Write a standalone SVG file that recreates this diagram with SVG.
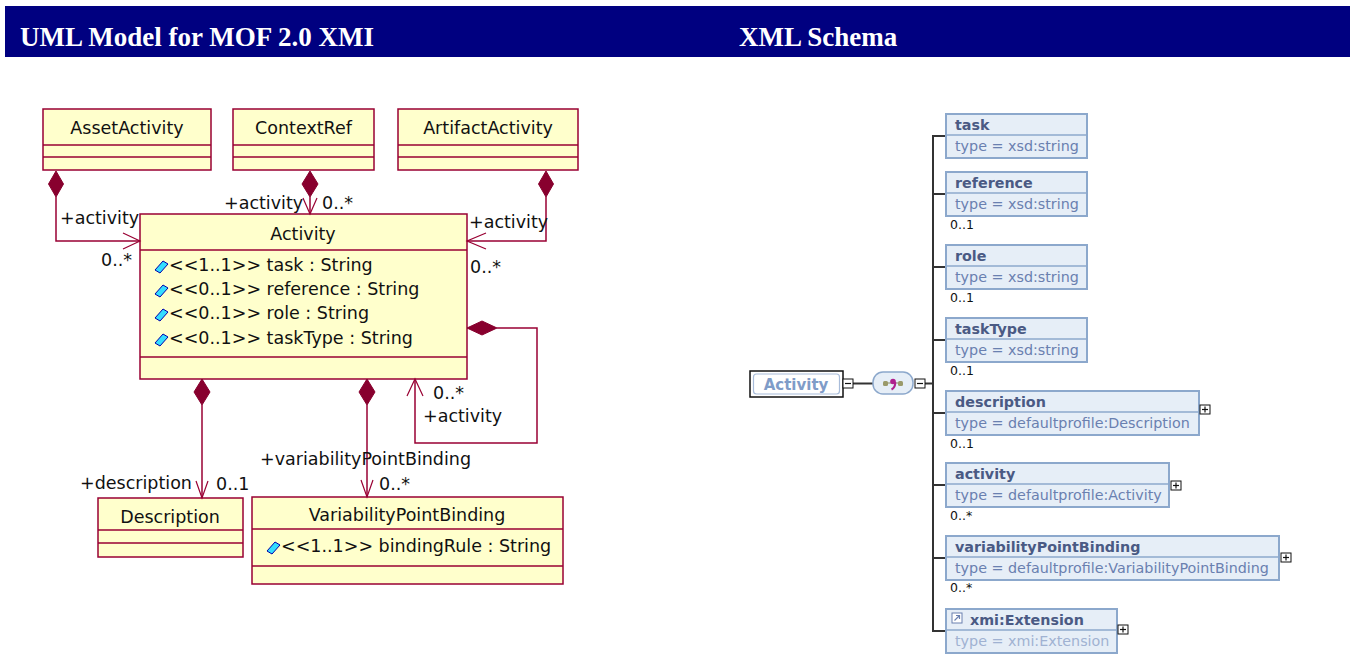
<svg xmlns="http://www.w3.org/2000/svg" width="1354" height="654" viewBox="0 0 1354 654">
<style>
.hdr{font-family:"Liberation Serif","Times New Roman",serif;font-weight:bold;font-size:27px;fill:#fff}
.cls{fill:#FFFFCC;stroke:#990033;stroke-width:1.5}
.sep{stroke:#990033;stroke-width:1.5}
.ut{font-family:"DejaVu Sans",Verdana,sans-serif;font-size:17.5px;fill:#111}
.mid{text-anchor:middle}
.ln{fill:none;stroke:#990033;stroke-width:1.5}
.arr{fill:none;stroke:#990033;stroke-width:1.2}
.dia{fill:#88002E;stroke:#88002E;stroke-width:1}
.ico{fill:#33DDFF;stroke:#0000AA;stroke-width:1}
.el{fill:#E6EEF7;stroke:#8CA8CC;stroke-width:2}
.esep{stroke:#8CA8CC;stroke-width:1.5}
.en{font-family:"DejaVu Sans",Verdana,sans-serif;font-weight:bold;font-size:14.3px;fill:#4A5A84}
.et{font-family:"DejaVu Sans",Verdana,sans-serif;font-size:14.3px;fill:#6A80B0}
.etl{font-family:"DejaVu Sans",Verdana,sans-serif;font-size:14.3px;fill:#A0B2D2}
.card{font-family:"DejaVu Sans",Verdana,sans-serif;font-size:12.5px;fill:#111}
.tr{fill:none;stroke:#333;stroke-width:2}
.pm{fill:#fff;stroke:#111;stroke-width:1}
.pmg{stroke:#111;stroke-width:1.2}
</style>
<defs>
<polygon id="attrIcon" class="ico" points="0,5 8,-4 13,-1 5,8"/>
<g id="plus"><rect class="pm" x="0" y="0" width="10" height="9"/><line class="pmg" x1="2" y1="4.5" x2="8" y2="4.5"/><line class="pmg" x1="5" y1="1.5" x2="5" y2="7.5"/></g>
<g id="minus"><rect class="pm" x="0" y="0" width="10" height="9"/><line class="pmg" x1="2" y1="4.5" x2="8" y2="4.5"/></g>
</defs>

<g id="header">
<rect x="5" y="6" width="1345" height="51" fill="#000080"/>
<text class="hdr" x="20" y="46">UML Model for MOF 2.0 XMI</text>
<text class="hdr" x="739" y="46">XML Schema</text>
</g>

<g id="AssetActivity">
<rect class="cls" x="43" y="109" width="168" height="61"/>
<line class="sep" x1="43" y1="145" x2="211" y2="145"/>
<line class="sep" x1="43" y1="157" x2="211" y2="157"/>
<text class="ut mid" x="127" y="134">AssetActivity</text>
</g>
<g id="ContextRef">
<rect class="cls" x="233" y="109" width="141" height="61"/>
<line class="sep" x1="233" y1="145" x2="374" y2="145"/>
<line class="sep" x1="233" y1="157" x2="374" y2="157"/>
<text class="ut mid" x="303.5" y="134">ContextRef</text>
</g>
<g id="ArtifactActivity">
<rect class="cls" x="398" y="109" width="180" height="61"/>
<line class="sep" x1="398" y1="145" x2="578" y2="145"/>
<line class="sep" x1="398" y1="157" x2="578" y2="157"/>
<text class="ut mid" x="488" y="134">ArtifactActivity</text>
</g>
<g id="Activity">
<rect class="cls" x="140" y="214" width="327" height="165"/>
<line class="sep" x1="140" y1="250" x2="467" y2="250"/>
<line class="sep" x1="140" y1="357" x2="467" y2="357"/>
<text class="ut mid" x="303" y="240">Activity</text>
<use href="#attrIcon" x="155" y="265"/>
<text class="ut" x="169" y="271">&lt;&lt;1..1&gt;&gt; task : String</text>
<use href="#attrIcon" x="155" y="289"/>
<text class="ut" x="169" y="295">&lt;&lt;0..1&gt;&gt; reference : String</text>
<use href="#attrIcon" x="155" y="313"/>
<text class="ut" x="169" y="319">&lt;&lt;0..1&gt;&gt; role : String</text>
<use href="#attrIcon" x="155" y="338"/>
<text class="ut" x="169" y="344">&lt;&lt;0..1&gt;&gt; taskType : String</text>
</g>
<g id="Description">
<rect class="cls" x="98" y="498" width="145" height="59"/>
<line class="sep" x1="98" y1="530" x2="243" y2="530"/>
<line class="sep" x1="98" y1="543" x2="243" y2="543"/>
<text class="ut mid" x="170" y="523">Description</text>
</g>
<g id="VariabilityPointBinding">
<rect class="cls" x="252" y="497" width="311" height="87"/>
<line class="sep" x1="252" y1="529" x2="563" y2="529"/>
<line class="sep" x1="252" y1="566" x2="563" y2="566"/>
<text class="ut mid" x="407" y="521">VariabilityPointBinding</text>
<use href="#attrIcon" x="267" y="546"/>
<text class="ut" x="281" y="552">&lt;&lt;1..1&gt;&gt; bindingRule : String</text>
</g>

<g id="connectors">
<polygon class="dia" points="56,171 63.5,184 56,197 48.5,184"/>
<polyline class="ln" points="56,197 56,241 140,241"/>
<polyline class="arr" points="123,233 140,241 123,249"/>
<text class="ut" x="60" y="224">+activity</text>
<text class="ut" x="101" y="266">0..*</text>
<polygon class="dia" points="310,171 318,184 310,197 302,184"/>
<line class="ln" x1="310" y1="197" x2="310" y2="214"/>
<polyline class="arr" points="303,198 310,214 317,198"/>
<text class="ut" x="224" y="209">+activity</text>
<text class="ut" x="322" y="209">0..*</text>
<polygon class="dia" points="546,171 553.5,184 546,197 538.5,184"/>
<polyline class="ln" points="546,197 546,241 467,241"/>
<polyline class="arr" points="486,233 467,241 486,249"/>
<text class="ut" x="469" y="228">+activity</text>
<text class="ut" x="470" y="273">0..*</text>
<polygon class="dia" points="467,328 482,321 497,328 482,335"/>
<polyline class="ln" points="497,328 537,328 537,443 415,443 415,379"/>
<polyline class="arr" points="407,396 415,379 423,396"/>
<text class="ut" x="433" y="399">0..*</text>
<text class="ut" x="423" y="422">+activity</text>
<polygon class="dia" points="202,379 210,392 202,405 194,392"/>
<line class="ln" x1="202" y1="405" x2="202" y2="498"/>
<polyline class="arr" points="196,481 202,498 208,481"/>
<text class="ut" x="80" y="489">+description</text>
<text class="ut" x="216" y="490">0..1</text>
<polygon class="dia" points="367,379 375,392 367,405 359,392"/>
<line class="ln" x1="367" y1="405" x2="367" y2="497"/>
<polyline class="arr" points="361,480 367,497 373,480"/>
<text class="ut" x="260" y="465">+variabilityPointBinding</text>
<text class="ut" x="379" y="490">0..*</text>
</g>

<g id="schema-connectors">
<line class="tr" x1="853" y1="383.5" x2="873" y2="383.5" stroke-width="1.5"/>
<line class="tr" x1="925" y1="383.5" x2="933" y2="383.5" stroke-width="1.5"/>
<line class="tr" x1="933" y1="136" x2="933" y2="632"/>
<line class="tr" x1="932" y1="136" x2="946" y2="136"/>
<line class="tr" x1="932" y1="194" x2="946" y2="194"/>
<line class="tr" x1="932" y1="267" x2="946" y2="267"/>
<line class="tr" x1="932" y1="340" x2="946" y2="340"/>
<line class="tr" x1="932" y1="413" x2="946" y2="413"/>
<line class="tr" x1="932" y1="485" x2="946" y2="485"/>
<line class="tr" x1="932" y1="558" x2="946" y2="558"/>
<line class="tr" x1="932" y1="631" x2="946" y2="631"/>
</g>

<g id="xActivity">
<rect x="750" y="371" width="93" height="26" fill="#fff" stroke="#111" stroke-width="1.5"/>
<rect x="753.5" y="374" width="86" height="20" rx="3" fill="#fff" stroke="#A8BCDA" stroke-width="1.2"/>
<text class="en mid" x="796" y="389.5" style="fill:#7F9CC8;font-size:15px">Activity</text>
<use href="#minus" x="843" y="379"/>
</g>
<g id="xSequence">
<rect x="873" y="372" width="40" height="22" rx="10" fill="#E6EEF7" stroke="#8CA8CC" stroke-width="1.5"/>
<line x1="884" y1="383" x2="902" y2="383" stroke="#8a8a60" stroke-width="1"/>
<rect x="883" y="381" width="5" height="5" rx="1.5" fill="#9a9a6a"/>
<rect x="898" y="381" width="5" height="5" rx="1.5" fill="#9a9a6a"/>
<circle cx="893" cy="381.5" r="2.8" fill="#B0208F"/>
<path d="M895.2 382 Q895.5 387.5 891.5 389.5" fill="none" stroke="#B0208F" stroke-width="2"/>
<use href="#minus" x="915" y="379"/>
</g>

<g id="x-task">
<rect class="el" x="946" y="114" width="141" height="44"/>
<line class="esep" x1="946" y1="135" x2="1087" y2="135"/>
<text class="en" x="955" y="130">task</text>
<text class="et" x="955" y="151">type = xsd:string</text>
</g>
<g id="x-reference">
<rect class="el" x="946" y="172" width="141" height="44"/>
<line class="esep" x1="946" y1="193" x2="1087" y2="193"/>
<text class="en" x="955" y="188">reference</text>
<text class="et" x="955" y="209">type = xsd:string</text>
<text class="card" x="950" y="229">0..1</text>
</g>
<g id="x-role">
<rect class="el" x="946" y="245" width="141" height="44"/>
<line class="esep" x1="946" y1="266" x2="1087" y2="266"/>
<text class="en" x="955" y="261">role</text>
<text class="et" x="955" y="282">type = xsd:string</text>
<text class="card" x="950" y="302">0..1</text>
</g>
<g id="x-taskType">
<rect class="el" x="946" y="318" width="141" height="44"/>
<line class="esep" x1="946" y1="339" x2="1087" y2="339"/>
<text class="en" x="955" y="334">taskType</text>
<text class="et" x="955" y="355">type = xsd:string</text>
<text class="card" x="950" y="375">0..1</text>
</g>
<g id="x-description">
<rect class="el" x="946" y="391" width="253" height="44"/>
<line class="esep" x1="946" y1="412" x2="1199" y2="412"/>
<text class="en" x="955" y="407">description</text>
<text class="et" x="955" y="428">type = defaultprofile:Description</text>
<text class="card" x="950" y="448">0..1</text>
<use href="#plus" x="1200" y="405"/>
</g>
<g id="x-activity">
<rect class="el" x="946" y="463" width="223" height="44"/>
<line class="esep" x1="946" y1="484" x2="1169" y2="484"/>
<text class="en" x="955" y="479">activity</text>
<text class="et" x="955" y="500">type = defaultprofile:Activity</text>
<text class="card" x="950" y="520">0..*</text>
<use href="#plus" x="1171" y="481"/>
</g>
<g id="x-variabilityPointBinding">
<rect class="el" x="946" y="536" width="333" height="44"/>
<line class="esep" x1="946" y1="557" x2="1279" y2="557"/>
<text class="en" x="955" y="552">variabilityPointBinding</text>
<text class="et" x="955" y="573">type = defaultprofile:VariabilityPointBinding</text>
<text class="card" x="950" y="592">0..*</text>
<use href="#plus" x="1281" y="553"/>
</g>
<g id="x-extension">
<rect class="el" x="946" y="609" width="171" height="44"/>
<line class="esep" x1="946" y1="630" x2="1117" y2="630"/>
<rect x="952" y="613" width="10" height="10" fill="#fff" stroke="#6A80B0" stroke-width="1"/>
<path d="M954.5 620.5 L959.5 615.5 M956 615.5 L959.5 615.5 L959.5 619" fill="none" stroke="#6A80B0" stroke-width="1.2"/>
<text class="en" x="970" y="625">xmi:Extension</text>
<text class="etl" x="955" y="646">type = xmi:Extension</text>
<use href="#plus" x="1118" y="625"/>
</g>
</svg>
